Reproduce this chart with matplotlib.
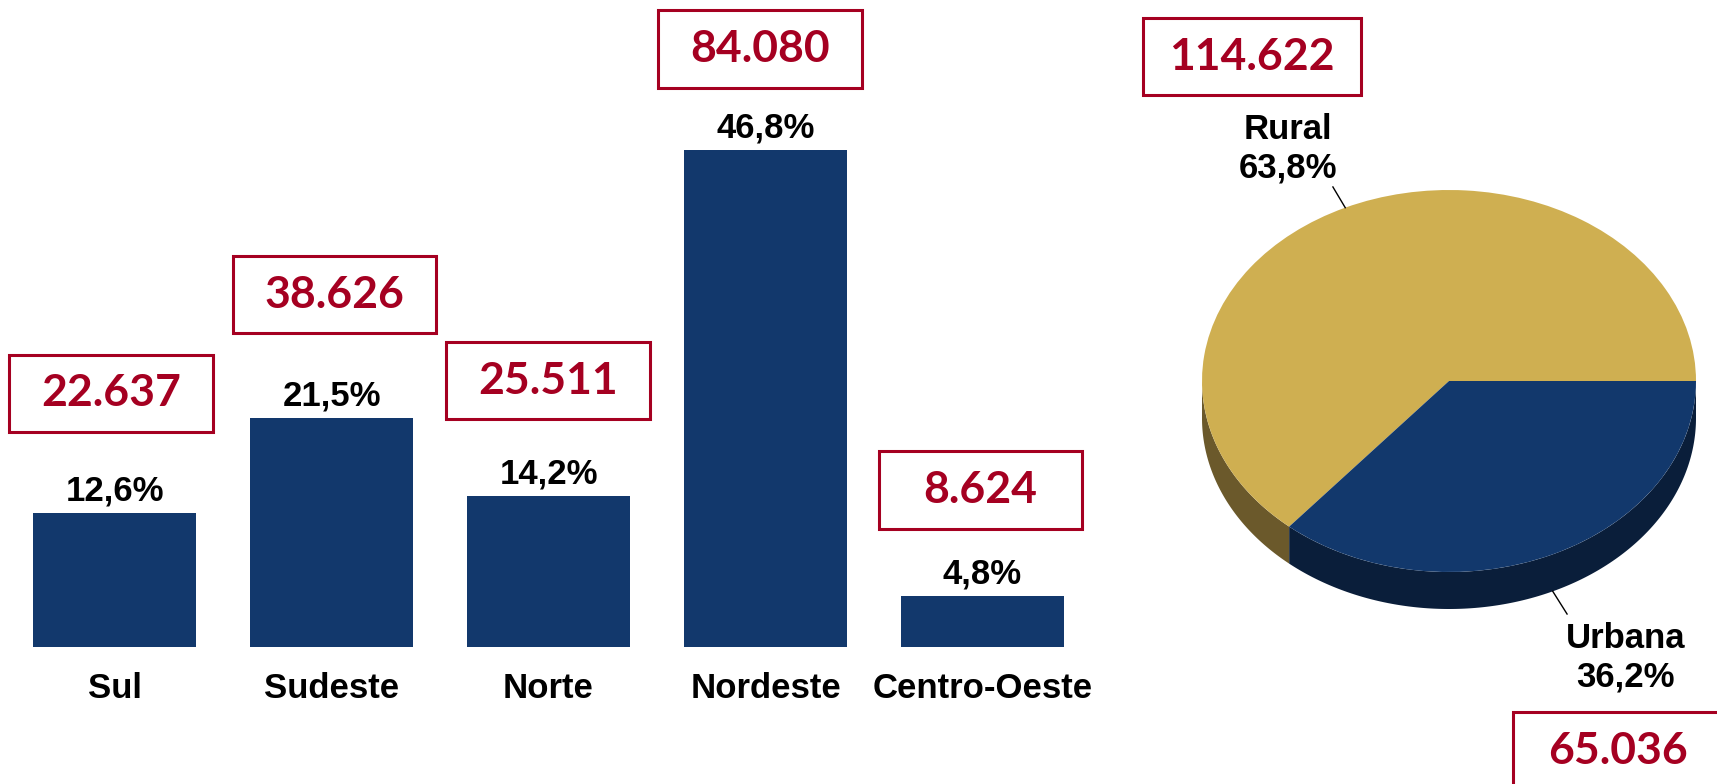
import matplotlib
matplotlib.use("Agg")
import matplotlib.pyplot as plt
import numpy as np
from matplotlib.patches import Rectangle, Polygon

# ---------------- data ----------------
regions = ["Sul", "Sudeste", "Norte", "Nordeste", "Centro-Oeste"]
region_pct = [12.6, 21.5, 14.2, 46.8, 4.8]
region_count = [22637, 38626, 25511, 84080, 8624]

area_labels = ["Rural", "Urbana"]
area_pct = [63.8, 36.2]
area_count = [114622, 65036]

# ---------------- styles ----------------
BLUE = "#12386C"
BLUE_SIDE = "#0A1E3A"
GOLD = "#CFAF51"
GOLD_SIDE = "#6B592B"
RED = "#A50021"
LABEL_FONT = dict(family="Liberation Sans", weight="bold", size=25, color="black")
BOX_FONT = dict(family=["Lato", "DejaVu Sans"], weight="bold", size=32, color=RED)

W, H = 1717, 784
fig = plt.figure(figsize=(W / 100, H / 100), dpi=100)


def fig_rect(px_left, px_top, px_w, px_h):
    return [px_left / W, 1 - (px_top + px_h) / H, px_w / W, px_h / H]


def pct_text(v):
    return f"{v:.1f}".replace(".", ",") + "%"


def count_text(v):
    return f"{v:,}".replace(",", ".")


# ---------------- bar chart ----------------
ax = fig.add_axes(fig_rect(6, 0, 1085, 647))
x = np.arange(len(regions))
bars = ax.bar(x, region_pct, width=0.751, color=BLUE)
ax.set_xlim(-0.5, 4.5)
ax.set_ylim(0, 647 / 10.63)
ax.set_xticks(x, regions)
for lbl in ax.get_xticklabels():
    lbl.set(**LABEL_FONT)
ax.tick_params(axis="x", length=0, pad=18)
ax.set_yticks([])
for s in ax.spines.values():
    s.set_visible(False)
ax.patch.set_alpha(0)

for xi, v in zip(x, region_pct):
    ax.annotate(pct_text(v), (xi, v), xytext=(0, 9), textcoords="offset points",
                ha="center", va="baseline", **LABEL_FONT)

# ---------------- 3D-looking pie ----------------
cx, cy, rx, ry = 1449, 381, 247, 191
depth = 37 / ry
pax = fig.add_axes(fig_rect(cx - 270, cy - 300, 540, 600))
wedges, _ = pax.pie(area_pct, colors=[GOLD, BLUE], startangle=0, counterclock=True,
                    radius=1, wedgeprops=dict(linewidth=0))
for w in wedges:
    w.set_zorder(3)
pax.set_aspect("auto")
pax.set_xlim(-270 / rx, 270 / rx)
pax.set_ylim(-300 / ry, 300 / ry)
pax.axis("off")

side_colors = [GOLD_SIDE, BLUE_SIDE]
angles = np.concatenate([[0], np.cumsum(area_pct) / sum(area_pct) * 360])
for i in range(len(area_pct)):
    a0, a1 = max(angles[i], 180), min(angles[i + 1], 360)
    if a1 <= a0:
        continue
    t = np.radians(np.linspace(a0, a1, 200))
    top = np.column_stack([np.cos(t), np.sin(t)])
    bot = np.column_stack([np.cos(t[::-1]), np.sin(t[::-1]) - depth])
    pax.add_patch(Polygon(np.vstack([top, bot]), closed=True, color=side_colors[i],
                          lw=0, zorder=2))

mids = np.radians((angles[:-1] + angles[1:]) / 2)
# label layout (end of leader, text centre) in pie data units
leader_end = [(-0.470, 1.016), (0.478, -1.220)]
text_pos = [(-0.652, 1.217), (0.715, -1.448)]
for i, m in enumerate(mids):
    sx, sy = np.cos(m), np.sin(m)
    if sy < 0:
        sy -= depth
    pax.plot([sx, leader_end[i][0]], [sy, leader_end[i][1]], color="black", lw=1,
             zorder=4, clip_on=False)
    pax.text(text_pos[i][0], text_pos[i][1], f"{area_labels[i]}\n{pct_text(area_pct[i])}",
             ha="center", va="center", multialignment="center", linespacing=1.2,
             clip_on=False, **LABEL_FONT)

# ---------------- red boxed totals ----------------
box_values = region_count + area_count
box_layout = [  # left, top, width, height in pixels
    (9, 355, 204, 77),
    (233, 256, 203, 77),
    (446, 342, 204, 77),
    (658, 10, 204, 78),
    (879, 451, 203, 78),
    (1143, 18, 218, 77),
    (1513, 712, 210, 78),
]
for v, (l, t, w, h) in zip(box_values, box_layout):
    r = fig_rect(l, t, w, h)
    fig.add_artist(Rectangle((r[0], r[1]), r[2], r[3], transform=fig.transFigure,
                             fill=False, edgecolor=RED, lw=2.2))
    fig.text(r[0] + r[2] / 2, r[1] + r[3] / 2, count_text(v), ha="center", va="center",
             **BOX_FONT)

fig.savefig("out.png", dpi=100, facecolor="white")
